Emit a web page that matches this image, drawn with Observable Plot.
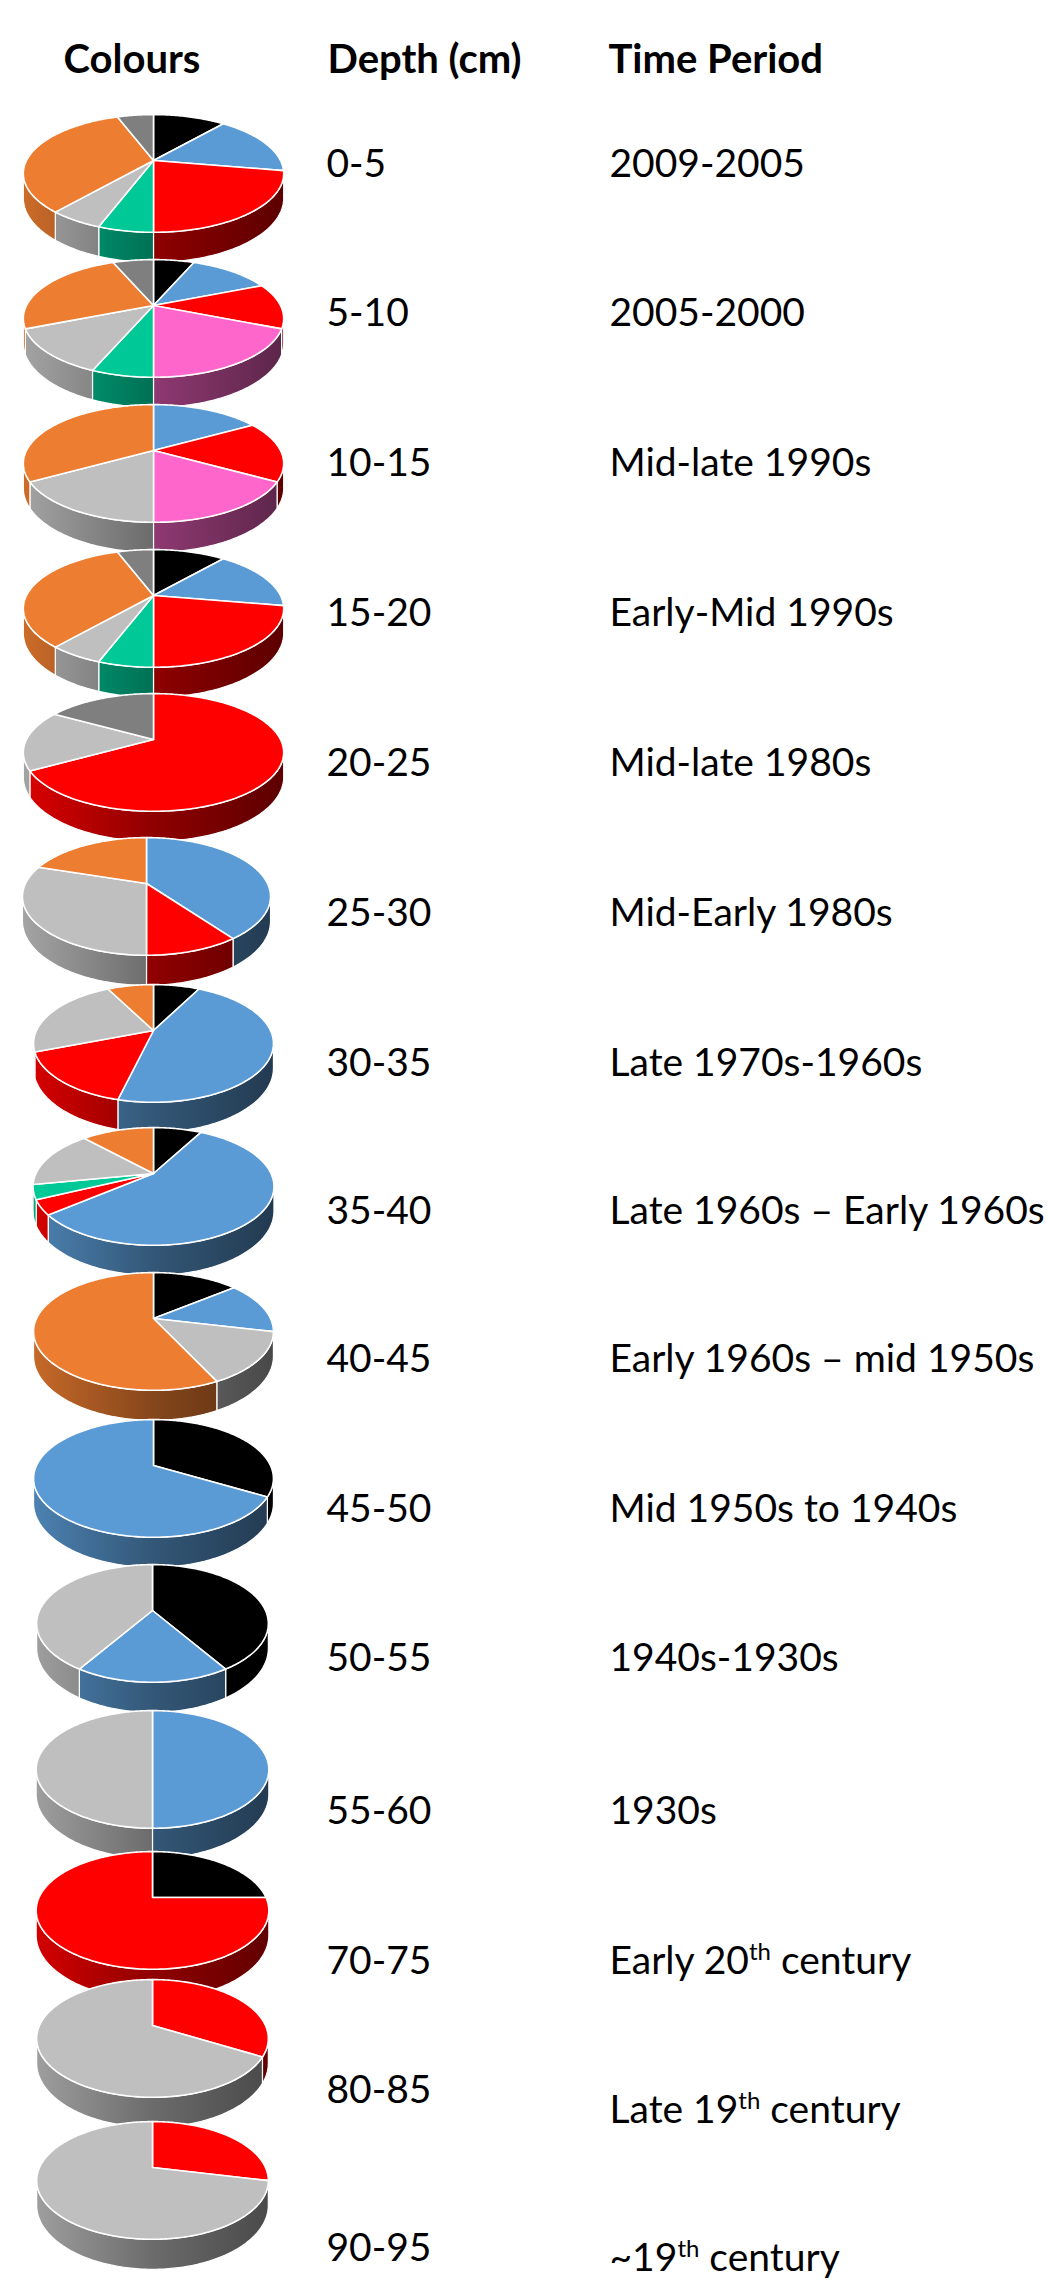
<!DOCTYPE html>
<html>
<head>
<meta charset="utf-8">
<script src="https://cdn.jsdelivr.net/npm/d3@7"></script>
<script src="https://cdn.jsdelivr.net/npm/@observablehq/plot@0.6"></script>
<style>
  html, body { margin: 0; padding: 0; background: #fff; }
  #chart svg { display: block; }
</style>
</head>
<body>
<div id="chart"></div>
<script>
// ---- Data: one row per core slice, fibre colour counts read clockwise from 12 o'clock ----
const headers = ["Colours", "Depth (cm)", "Time Period"];

const depths = ["0-5", "5-10", "10-15", "15-20", "20-25", "25-30", "30-35", "35-40",
                "40-45", "45-50", "50-55", "55-60", "70-75", "80-85", "90-95"];

const periods = ["2009-2005", "2005-2000", "Mid-late 1990s", "Early-Mid 1990s",
                 "Mid-late 1980s", "Mid-Early 1980s", "Late 1970s-1960s",
                 "Late 1960s \u2013 Early 1960s", "Early 1960s \u2013 mid 1950s",
                 "Mid 1950s to 1940s", "1940s-1930s", "1930s", "Early 20th century",
                 "Late 19th century", "~19th century"];

const sliceColours = [
  ["black", "blue", "red", "green", "lightgrey", "orange", "darkgrey"],
  ["black", "blue", "red", "pink", "green", "lightgrey", "orange", "darkgrey"],
  ["blue", "red", "pink", "lightgrey", "orange"],
  ["black", "blue", "red", "green", "lightgrey", "orange", "darkgrey"],
  ["red", "lightgrey", "darkgrey"],
  ["blue", "red", "lightgrey", "orange"],
  ["black", "blue", "red", "lightgrey", "orange"],
  ["black", "blue", "red", "green", "lightgrey", "orange"],
  ["black", "blue", "lightgrey", "orange"],
  ["black", "blue"],
  ["black", "blue", "lightgrey"],
  ["blue", "lightgrey"],
  ["black", "red"],
  ["red", "lightgrey"],
  ["red", "lightgrey"]
];

const sliceCounts = [
  [2, 3, 4, 1, 1, 6, 1],
  [1, 2, 2, 3, 1, 2, 4, 1],
  [1, 1, 1, 1, 2],
  [2, 3, 4, 1, 1, 6, 1],
  [4, 1, 1],
  [4, 1, 3, 2],
  [1, 6, 2, 3, 1],
  [2, 14, 1, 1, 4, 3],
  [1, 1, 1, 4],
  [1, 2],
  [7, 3, 7],
  [1, 1],
  [1, 3],
  [1, 2],
  [2, 5]
];

// ---- Styling ----
const colourFill = {
  black: "#000000", blue: "#5B9BD5", red: "#FF0000", pink: "#FF66CC",
  green: "#00C896", lightgrey: "#BFBFBF", orange: "#ED7D31", darkgrey: "#7F7F7F"
};

// ---- Layout (pixels) ----
const W = 1048, H = 2284;
const pieCenterX = [153, 153, 153, 153, 153, 146, 153, 153, 153, 153, 152, 152, 152, 152, 152];
const pieApexY   = [160, 305, 450, 595, 739, 883, 1030, 1173, 1318, 1465, 1610, 1756, 1897, 2025, 2167];
const pieRadius  = [127, 127, 127, 127, 127, 121, 117, 117.5, 117, 117, 113, 113.5, 113.5, 113, 113];
const tiltRadius = 56;      // vertical half-axis of the tilted disc
const tiltPersp = 0.22;     // near edge drawn larger than far edge
const wallDepth = 23.4;     // thickness of each disc
const headerX = [63, 327, 608], headerBaseline = 72;
const depthX = 326, periodX = 609;
const depthBaseline  = [176, 325, 475, 625, 775, 925, 1075, 1223, 1371, 1521, 1670, 1823, 1973, 2102, 2260];
const periodBaseline = [176, 325, 475, 625, 775, 925, 1075, 1223, 1371, 1521, 1670, 1823, 1973, 2122, 2270];

// Project an angle (clockwise from 12 o'clock) on disc i to screen space
function project(i, a, r, onBase) {
  const u = r * Math.sin(a), v = -r * Math.cos(a);
  const s = 1 / (1 - tiltPersp * v);
  return [
    pieCenterX[i] + pieRadius[i] * u * s,
    pieApexY[i] + tiltRadius * v * s + (onBase ? wallDepth * s : 0)
  ];
}

const step = Math.PI / 180;
function arcAngles(a0, a1) {
  const n = Math.max(2, Math.ceil((a1 - a0) / step) + 1);
  return d3.range(n).map(k => a0 + (a1 - a0) * k / (n - 1));
}

// Visible part of the side wall lies between the two silhouette angles
const wallLo = Math.acos(-tiltPersp), wallHi = 2 * Math.PI - wallLo;

const tops = [], walls = [];
sliceCounts.forEach((counts, i) => {
  const arcs = d3.pie().sort(null).value(d => d)(counts);
  arcs.forEach((arc, j) => {
    const colour = sliceColours[i][j];
    const id = `${i}-${j}`;
    // top face: apex then rim
    const [ax, ay] = project(i, 0, 0, false);
    tops.push({id, x: ax, y: ay, fill: colourFill[colour]});
    for (const a of arcAngles(arc.startAngle, arc.endAngle)) {
      const [x, y] = project(i, a, 1, false);
      tops.push({id, x, y, fill: colourFill[colour]});
    }
    // side wall
    const b0 = Math.max(arc.startAngle, wallLo), b1 = Math.min(arc.endAngle, wallHi);
    if (b1 > b0) {
      const angles = arcAngles(b0, b1);
      for (const a of angles) {
        const [x, y] = project(i, a, 1, false);
        walls.push({id, x, y, fill: `url(#side-${colour})`});
      }
      for (const a of angles.slice().reverse()) {
        const [x, y] = project(i, a, 1, true);
        walls.push({id, x, y, fill: `url(#side-${colour})`});
      }
    }
  });
});

const headerRows = headers.map((h, i) => ({text: h, x: headerX[i], y: headerBaseline}));
const depthRows = depths.map((d, i) => ({text: d, x: depthX, y: depthBaseline[i]}));
const periodRows = periods.map((p, i) => ({text: p, x: periodX, y: periodBaseline[i]}));

const textFont = "Lato, 'Open Sans', sans-serif";

const chart = Plot.plot({
  width: W,
  height: H,
  margin: 0,
  x: {type: "linear", domain: [0, W], range: [0, W], axis: null},
  y: {type: "linear", domain: [0, H], range: [0, H], axis: null},
  color: {type: "identity"},
  style: {background: "#ffffff"},
  marks: [
    Plot.line(walls, {x: "x", y: "y", z: "id", fill: "fill", stroke: "#ffffff",
      strokeWidth: 1.2, curve: "linear-closed", strokeLinejoin: "round"}),
    Plot.line(tops, {x: "x", y: "y", z: "id", fill: "fill", stroke: "#ffffff",
      strokeWidth: 1.6, curve: "linear-closed", strokeLinejoin: "round"}),
    Plot.text(headerRows, {x: "x", y: "y", text: "text", textAnchor: "start", lineAnchor: "bottom",
      fontSize: 40, fontWeight: "bold", fontFamily: textFont, fill: "#000"}),
    Plot.text(depthRows, {x: "x", y: "y", text: "text", textAnchor: "start", lineAnchor: "bottom",
      fontSize: 39, fontFamily: textFont, fill: "#000"}),
    Plot.text(periodRows, {x: "x", y: "y", text: "text", textAnchor: "start", lineAnchor: "bottom",
      fontSize: 39, fontFamily: textFont, fill: "#000"})
  ]
});

// Side-wall shading: light on the left, dark on the right
const svg = d3.select(chart);
const sx = chart.scale("x");
const defs = svg.insert("defs", ":first-child");
for (const [name, hex] of Object.entries(colourFill)) {
  const c = d3.rgb(hex);
  const g = defs.append("linearGradient")
    .attr("id", `side-${name}`)
    .attr("gradientUnits", "userSpaceOnUse")
    .attr("x1", sx.apply(22)).attr("x2", sx.apply(284))
    .attr("y1", 0).attr("y2", 0);
  [[0, 0.86], [0.5, 0.56], [1, 0.36]].forEach(([o, f]) => {
    g.append("stop").attr("offset", o)
      .attr("stop-color", d3.rgb(c.r * f, c.g * f, c.b * f).formatHex());
  });
}

// Ordinal suffixes set as superscripts
svg.selectAll("text").each(function () {
  const t = this.textContent;
  const m = t.match(/^(.*\d)(th)(.*)$/);
  if (!m) return;
  const el = d3.select(this);
  el.text(null);
  el.append("tspan").text(m[1]);
  el.append("tspan").attr("font-size", 24).attr("dy", -14).text(m[2]);
  el.append("tspan").attr("dy", 14).text(m[3]);
});

document.getElementById("chart").append(chart);
</script>
</body>
</html>
